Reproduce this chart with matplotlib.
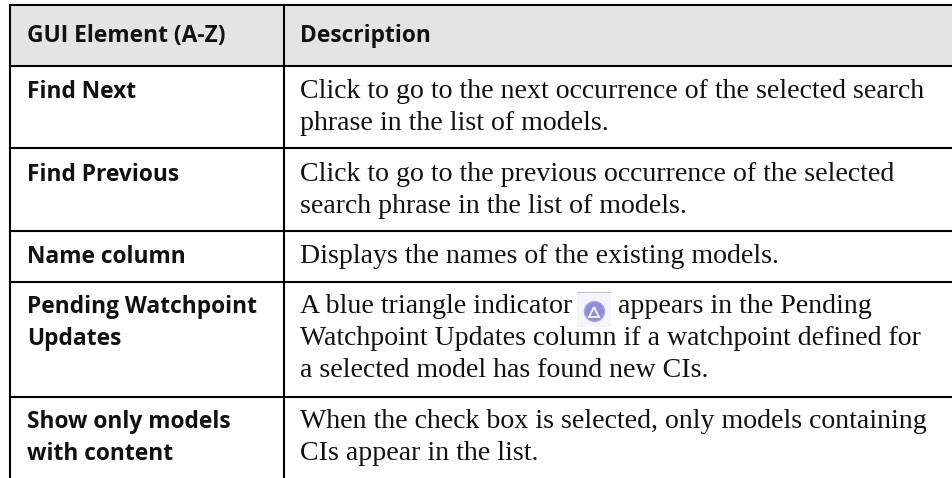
import matplotlib
matplotlib.use("Agg")
import matplotlib.pyplot as plt
from matplotlib.patches import Circle, Polygon, Rectangle

W, H = 953, 478

HEADERS = ["GUI Element (A-Z)", "Description"]
ELEMENTS = [
    ["Find Next"],
    ["Find Previous"],
    ["Name column"],
    ["Pending Watchpoint", "Updates"],
    ["Show only models", "with content"],
]
DESCRIPTIONS = [
    ["Click to go to the next occurrence of the selected search",
     "phrase in the list of models."],
    ["Click to go to the previous occurrence of the selected",
     "search phrase in the list of models."],
    ["Displays the names of the existing models."],
    ["A blue triangle indicator", "Watchpoint Updates column if a watchpoint defined for",
     "a selected model has found new CIs."],
    ["When the check box is selected, only models containing",
     "CIs appear in the list."],
]
ICON_TAIL = "appears in the Pending"
ROW_LINES = [5, 65.5, 148, 231, 282, 397]
COL_LINES = [10.5, 284]
ROW_TEXT_Y = [97.5, 181, 263, 313, 428]
LINE_STEP = 32

fig = plt.figure(figsize=(W / 100, H / 100), dpi=100)
ax = fig.add_axes([0, 0, 1, 1])
ax.set_xlim(0, W)
ax.set_ylim(H, 0)
ax.axis("off")

ax.add_patch(Rectangle((COL_LINES[0], ROW_LINES[0]), W - COL_LINES[0],
                       ROW_LINES[1] - ROW_LINES[0], color="#e4e4e4", lw=0))
for y in ROW_LINES:
    ax.plot([COL_LINES[0], W], [y, y], color="black", lw=1.5, solid_capstyle="projecting")
for x in COL_LINES:
    ax.plot([x, x], [ROW_LINES[0], H], color="black", lw=1.5, solid_capstyle="butt")

bold = dict(family="Open Sans", weight="bold", fontsize=16.4, color="#111111", va="baseline")
body = dict(family="Liberation Serif", fontsize=20.1, color="#111111", va="baseline")

ax.text(27, 42, HEADERS[0], **bold)
ax.text(300, 42, HEADERS[1], **bold)
for top, names, desc in zip(ROW_TEXT_Y, ELEMENTS, DESCRIPTIONS):
    for i, line in enumerate(names):
        ax.text(27, top + i * LINE_STEP, line, **bold)
    for i, line in enumerate(desc):
        ax.text(300, top + i * LINE_STEP, line, **body)
ax.text(618, ROW_TEXT_Y[3], ICON_TAIL, **body)

# little blue triangle icon in the Pending Watchpoint row
ax.add_patch(Rectangle((577, 292), 34, 35, color="#f3f5fb", lw=0))
ax.plot([577, 611], [292, 292], color="#b9c9d9", lw=0.8)
ax.add_patch(Circle((594.5, 311.5), 10, facecolor="#8e8ed4", edgecolor="#a9a9e0", lw=1))
ax.add_patch(Polygon([[594, 307], [589, 317], [599, 317]], closed=True,
                     facecolor="#8e8ed4", edgecolor="#f0f0fa", lw=1.4))

fig.savefig("out.png", dpi=100)
